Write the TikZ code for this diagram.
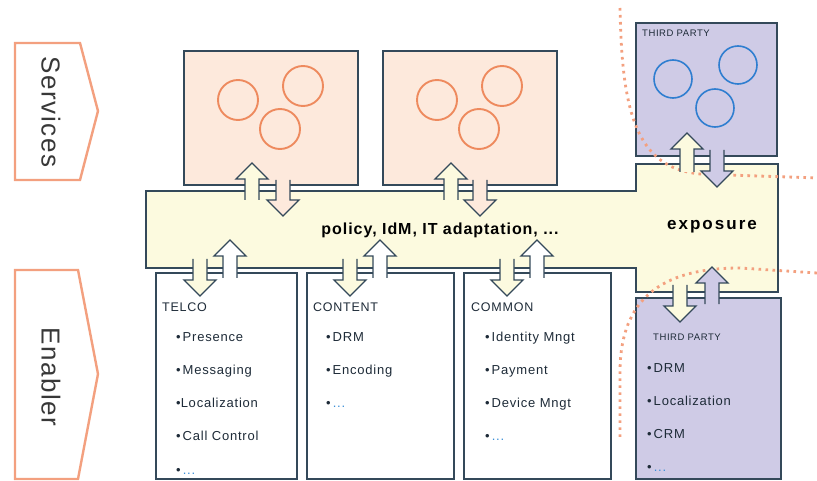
\documentclass[tikz,border=0pt]{standalone}
\usepackage{fontspec}
\setmainfont[LetterSpace=6]{Liberation Sans}

\definecolor{edge}{HTML}{34495A}
\definecolor{peach}{HTML}{FDE9DC}
\definecolor{cream}{HTML}{FCFADF}
\definecolor{lilac}{HTML}{CFCBE6}
\definecolor{salmon}{HTML}{F3A07F}
\definecolor{ring}{HTML}{EE8A5E}
\definecolor{bluering}{HTML}{2F7ED0}
\definecolor{dotblue}{HTML}{3A8FD8}
\definecolor{ink}{HTML}{1E2B38}

\tikzset{
  box/.style={draw=edge, line width=1.5pt, inner sep=0pt},
  svcbox/.style={box, fill=peach, minimum width=174pt, minimum height=134pt},
  enbbox/.style={box, fill=white, minimum height=206pt},
  tpbox/.style={box, fill=lilac},
  tag/.style={draw=salmon, line width=2.4pt, fill=white, line join=miter},
  tagtext/.style={rotate=-90, text=black!78, font=\fontsize{26}{28}\selectfont},
  hdr/.style={anchor=base west, inner sep=0pt, text=ink, font=\fontsize{12.5}{14}\selectfont},
  item/.style={anchor=base west, inner sep=0pt, text=ink, font=\fontsize{13}{15}\selectfont},
  small/.style={anchor=base west, inner sep=0pt, text=ink, font=\fontsize{9.5}{11}\selectfont},
  ringline/.style={draw=ring, line width=1.9pt},
  bluering/.style={draw=bluering, line width=1.6pt},
  fence/.style={draw=salmon, line width=2.8pt, dash pattern=on 2.6pt off 4.4pt},
  arrline/.style={draw=edge, line width=1.4pt, line join=miter},
}

% block arrows: fill, x, tip y, tail y
\newcommand{\blockup}[4]{%
  \fill[#1] (#2-7,#4) -- (#2-7,#3+16) -- (#2-16,#3+16) -- (#2,#3) -- (#2+16,#3+16) -- (#2+7,#3+16) -- (#2+7,#4) -- cycle;
  \draw[arrline] (#2-7,#4) -- (#2-7,#3+16) -- (#2-16,#3+16) -- (#2,#3) -- (#2+16,#3+16) -- (#2+7,#3+16) -- (#2+7,#4);
}
\newcommand{\blockdown}[4]{%
  \fill[#1] (#2-7,#4) -- (#2-7,#3-16) -- (#2-16,#3-16) -- (#2,#3) -- (#2+16,#3-16) -- (#2+7,#3-16) -- (#2+7,#4) -- cycle;
  \draw[arrline] (#2-7,#4) -- (#2-7,#3-16) -- (#2-16,#3-16) -- (#2,#3) -- (#2+16,#3-16) -- (#2+7,#3-16) -- (#2+7,#4);
}

\begin{document}
\begin{tikzpicture}[x=1pt, y=-1pt]
  \useasboundingbox (0,0) rectangle (817,481);

  % layer tags
  \draw[tag] (15,43) -- (80,43) -- (98,111) -- (80,180) -- (15,180) -- cycle;
  \node[tagtext] (servicesLabel) at (51,112) {Services};
  \draw[tag] (15,270) -- (78,270) -- (98,374) -- (78,479) -- (15,479) -- cycle;
  \node[tagtext] (enablerLabel) at (51,377) {Enabler};

  % service boxes
  \node[svcbox] (svcA) at (271,118) {};
  \node[svcbox] (svcB) at (470,118) {};
  \foreach \dx in {0,199} {
    \draw[ringline] (238+\dx,100) circle (20pt);
    \draw[ringline] (303+\dx,86) circle (20pt);
    \draw[ringline] (280+\dx,129) circle (20pt);
  }

  % middleware bar + exposure
  \draw[box, fill=cream] (146,191) -- (636,191) -- (636,164) -- (778,164) -- (778,292)
    -- (636,292) -- (636,268) -- (146,268) -- cycle;

  % enabler boxes
  \node[enbbox, minimum width=141pt] (telco) at (226.5,376) {};
  \node[enbbox, minimum width=147pt] (content) at (380.5,376) {};
  \node[enbbox, minimum width=147pt] (common) at (537.5,376) {};

  % third party
  \node[tpbox, minimum width=141pt, minimum height=133pt] (tpTop) at (706.5,89.5) {};
  \node[tpbox, minimum width=145pt, minimum height=181pt] (tpBot) at (708.5,388.5) {};
  \draw[bluering] (673,79) circle (19pt);
  \draw[bluering] (738,65) circle (19pt);
  \draw[bluering] (715,108) circle (19pt);

  % domain borders
  \draw[fence] (620,8) .. controls (622,110) and (635,168) .. (700,174) -- (817,178);
  \draw[fence] (817,273) -- (740,268) .. controls (660,268) and (621,300) .. (620,370) -- (620,440);

  % arrows services <-> bar
  \blockup{cream}{252}{163}{200}
  \blockdown{peach}{283}{216}{180}
  \blockup{cream}{451}{163}{200}
  \blockdown{peach}{480}{216}{180}
  % arrows bar <-> enablers
  \foreach \x in {200,350,507} {
    \blockdown{cream}{\x}{296}{259}
    \blockup{white}{\x+30}{240}{278}
  }
  % arrows exposure <-> third party
  \blockup{cream}{687}{133}{172}
  \blockdown{lilac}{717}{187}{150}
  \blockdown{cream}{680}{322}{285}
  \blockup{lilac}{712}{267}{304}

  % texts
  \node[font=\fontsize{16}{18}\bfseries] (policy) at (440,230) {policy, IdM, IT adaptation, ...};
  \node[font=\fontsize{17}{19}\bfseries\addfontfeature{LetterSpace=12}] (expo) at (712,227) {exposure};

  \node[hdr] (telcoHdr) at (162,312) {TELCO};
  \foreach \t [count=\i] in {Presence, Messaging, {\kern-2pt Localization}, Call Control}
    \node[item] (telco\i) at (176,{341+33*(\i-1)}) {•\hspace{2pt}\t};
  \node[item] (telco5) at (176,474) {•\hspace{2pt}\textcolor{dotblue}{...}};

  \node[hdr] (contentHdr) at (313,312) {CONTENT};
  \foreach \t [count=\i] in {DRM, Encoding}
    \node[item] (content\i) at (326,{341+33*(\i-1)}) {•\hspace{2pt}\t};
  \node[item] (content3) at (326,407) {•\hspace{2pt}\textcolor{dotblue}{...}};

  \node[hdr] (commonHdr) at (471,312) {COMMON};
  \foreach \t [count=\i] in {Identity Mngt, Payment, Device Mngt}
    \node[item] (common\i) at (485,{341+33*(\i-1)}) {•\hspace{2pt}\t};
  \node[item] (common4) at (485,440) {•\hspace{2pt}\textcolor{dotblue}{...}};

  \node[small] (tpTopHdr) at (642,37) {THIRD PARTY};
  \node[small] (tpBotHdr) at (653,340) {THIRD PARTY};
  \foreach \t [count=\i] in {DRM, Localization, CRM}
    \node[item] (tp\i) at (647,{372+33*(\i-1)}) {•\hspace{2pt}\t};
  \node[item] (tp4) at (647,471) {•\hspace{2pt}\textcolor{dotblue}{...}};
\end{tikzpicture}
\end{document}
